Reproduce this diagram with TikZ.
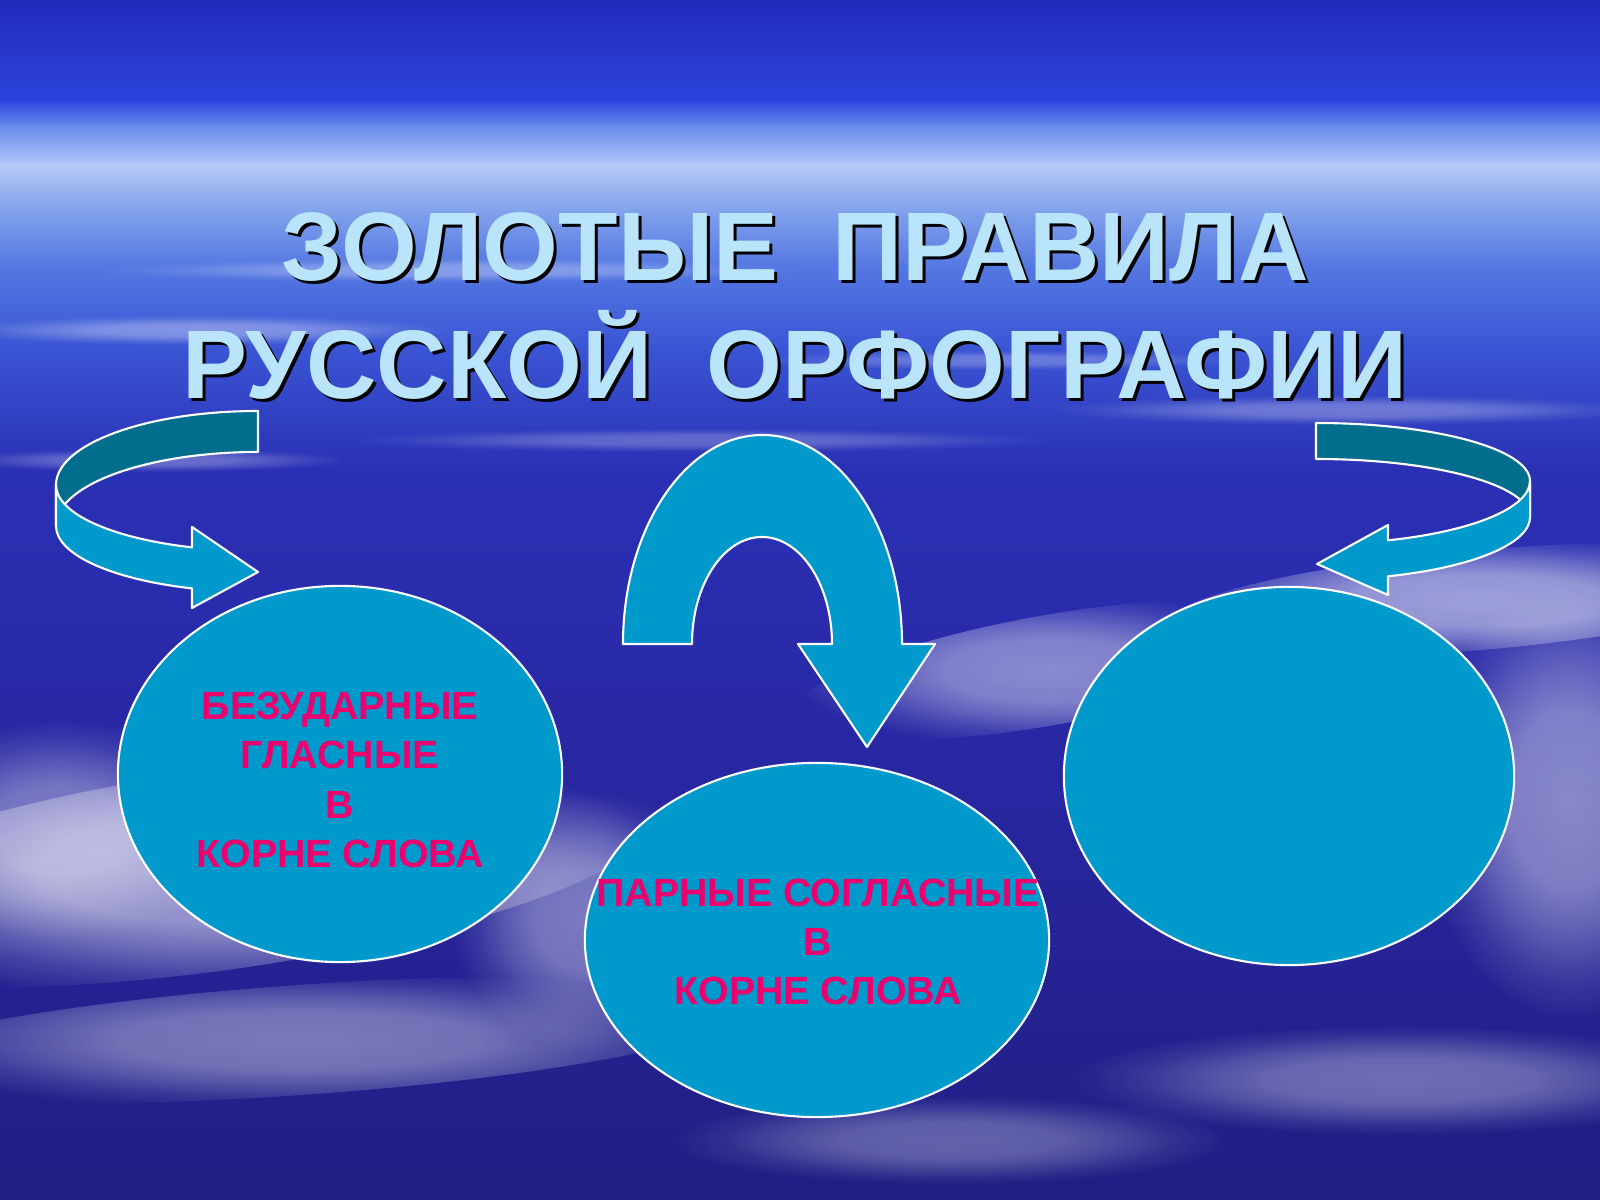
\documentclass[tikz,border=0pt]{standalone}
\usepackage{fontspec}
\setmainfont{Liberation Sans}
\usetikzlibrary{shapes.geometric,fadings}
\definecolor{bubble}{RGB}{0,153,204}
\definecolor{bubbledark}{RGB}{0,110,140}
\definecolor{rulepink}{RGB}{235,0,110}
\definecolor{headblue}{RGB}{185,228,250}
\definecolor{sky0}{RGB}{34,42,188}
\definecolor{sky1}{RGB}{45,68,220}
\definecolor{sky2}{RGB}{100,138,236}
\definecolor{sky3}{RGB}{182,200,246}
\definecolor{sky4}{RGB}{130,162,236}
\definecolor{sky5}{RGB}{85,120,226}
\definecolor{sky6}{RGB}{58,84,212}
\definecolor{sky7}{RGB}{42,48,180}
\definecolor{sky8}{RGB}{40,38,160}
\definecolor{sky9}{RGB}{32,30,130}
\pgfdeclareradialshading{cloudmask}{\pgfpointorigin}{color(0bp)=(white); color(10bp)=(white!90!black); color(15bp)=(white!60!black); color(20bp)=(white!25!black); color(25bp)=(black); color(50bp)=(black)}
\pgfdeclarefading{softcloud}{\pgfuseshading{cloudmask}}
\begin{document}
\begin{tikzpicture}[x=0.01cm, y=0.01cm,
  bubbleshape/.style={ellipse, fill=bubble, draw=white, line width=0.6pt, inner sep=0pt},
  ribbon/.style={fill=bubble, draw=white, line width=0.6pt, line join=round},
  ribbonback/.style={ribbon, fill=bubbledark},
  ruletext/.style={text=rulepink, align=center, font=\bfseries\fontsize{11.2}{14}\selectfont},
  headline/.style={align=center, font=\bfseries\fontsize{27.7}{33.8}\selectfont},
  cloud/.style={white, path fading=softcloud}]
\useasboundingbox (0,0) rectangle (1600,1200);
\shade[top color=sky0, bottom color=sky1] (0,1200) rectangle (1600,1099);
\shade[top color=sky1, bottom color=sky2] (0,1100) rectangle (1600,1074);
\shade[top color=sky2, bottom color=sky3] (0,1075) rectangle (1600,1034);
\shade[top color=sky3, bottom color=sky4] (0,1035) rectangle (1600,989);
\shade[top color=sky4, bottom color=sky5] (0,990) rectangle (1600,934);
\shade[top color=sky5, bottom color=sky6] (0,935) rectangle (1600,849);
\shade[top color=sky6, bottom color=sky7] (0,850) rectangle (1600,729);
\shade[top color=sky7, bottom color=sky8] (0,730) rectangle (1600,399);
\shade[top color=sky8, bottom color=sky9] (0,400) rectangle (1600,0);
\fill[cloud, opacity=.35] (200,870) ellipse (250 and 15);
\fill[cloud, opacity=.3] (1350,790) ellipse (300 and 15);
\fill[cloud, opacity=.25] (700,760) ellipse (350 and 12);
\fill[cloud, opacity=.3] (150,740) ellipse (200 and 12);
\fill[cloud, opacity=.25] (1000,840) ellipse (250 and 10);
\fill[cloud, opacity=.3] (450,930) ellipse (350 and 12);
\fill[cloud, opacity=.55, rotate around={8:(220,330)}] (220,330) ellipse (450 and 100);
\fill[cloud, opacity=.4] (60,370) ellipse (180 and 110);
\fill[cloud, opacity=.4] (590,280) ellipse (140 and 130);
\fill[cloud, opacity=.45, rotate around={10:(1050,530)}] (1050,530) ellipse (260 and 55);
\fill[cloud, opacity=.55, rotate around={5:(1480,600)}] (1480,600) ellipse (320 and 50);
\fill[cloud, opacity=.45] (1570,400) ellipse (150 and 220);
\fill[cloud, opacity=.4, rotate around={4:(300,160)}] (300,160) ellipse (450 and 55);
\fill[cloud, opacity=.35] (1400,120) ellipse (330 and 55);
\fill[cloud, opacity=.3] (950,60) ellipse (280 and 45);
\node[headline, text=black] (headshadow) at (798,891) {ЗОЛОТЫЕ\ \ ПРАВИЛА\\РУССКОЙ\ \ ОРФОГРАФИИ};
\node[headline, text=headblue] (head) at ([shift={(-3,3)}]headshadow.center) {ЗОЛОТЫЕ\ \ ПРАВИЛА\\РУССКОЙ\ \ ОРФОГРАФИИ};
\draw[ribbonback] (258,789) arc[start angle=90, end angle=180, x radius=202, y radius=74] -- (56,674) arc[start angle=180, end angle=90, x radius=202, y radius=74] -- cycle;
\draw[ribbon] (56,715) arc[start angle=180, end angle=250.93, x radius=202, y radius=66] -- (192,673) -- (258,628) -- (192,592) -- (192,611.6) arc[start angle=250.93, end angle=180, x radius=202, y radius=66] -- cycle;
\draw[ribbonback] (1316,777) arc[start angle=90, end angle=0, x radius=214, y radius=58] -- (1530,683) arc[start angle=0, end angle=90, x radius=214, y radius=58] -- cycle;
\draw[ribbon] (1530,719) arc[start angle=0, end angle=-70.37, x radius=214, y radius=63] -- (1388,675) -- (1317,636) -- (1388,605) -- (1388,623.7) arc[start angle=-70.37, end angle=0, x radius=214, y radius=63] -- cycle;
\draw[ribbon] (623,556) arc[start angle=180, end angle=0, x radius=139.5, y radius=209] -- (935,556) -- (867,453) -- (798,556) -- (832,556) arc[start angle=0, end angle=180, x radius=70, y radius=107] -- cycle;
\node[bubbleshape, minimum width=4.44cm, minimum height=3.76cm] (vowels) at (340,426) {};
\node[bubbleshape, minimum width=4.64cm, minimum height=3.54cm] (consonants) at (817,260) {};
\node[bubbleshape, minimum width=4.5cm, minimum height=3.78cm] (blank) at (1289,424) {};
\node[ruletext] (vowelstext) at ([shift={(0,-6)}]vowels.center) {БЕЗУДАРНЫЕ\\ГЛАСНЫЕ\\В\\КОРНЕ СЛОВА};
\node[ruletext] (consonantstext) at ([shift={(1,-2)}]consonants.center) {ПАРНЫЕ СОГЛАСНЫЕ\\В\\КОРНЕ СЛОВА};
\end{tikzpicture}
\end{document}
